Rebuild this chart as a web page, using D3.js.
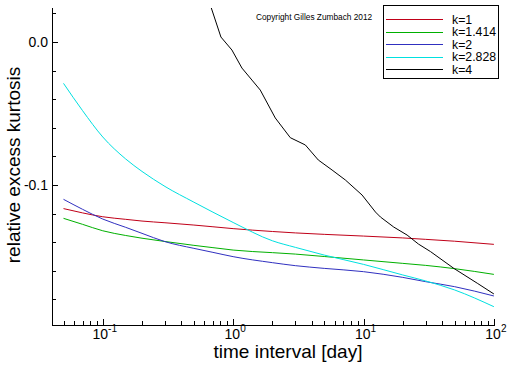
<!DOCTYPE html>
<html><head><meta charset="utf-8">
<script src="https://cdn.jsdelivr.net/npm/d3@7"></script>
<style>body{margin:0;background:#fff}svg{display:block;font-family:"Liberation Sans",Arial,sans-serif}</style>
</head><body><svg id="c" width="512" height="366"></svg>
<script>
const xs = [0.05,0.07,0.1,0.15,0.2,0.3,0.5,0.7,1,2,3,5,10,20,30,50,100];
const k1    = [-0.1165,-0.1195,-0.1222,-0.1240,-0.1252,-0.1264,-0.1280,-0.1292,-0.1305,-0.1325,-0.1335,-0.1345,-0.1357,-0.1370,-0.1380,-0.1393,-0.1415];
const k1414 = [-0.1233,-0.1275,-0.1320,-0.1353,-0.1372,-0.1395,-0.1422,-0.1438,-0.1455,-0.1473,-0.1483,-0.1500,-0.1524,-0.1548,-0.1562,-0.1585,-0.1625];
const k2    = [-0.1100,-0.1170,-0.1238,-0.1296,-0.1338,-0.1396,-0.1443,-0.1471,-0.1501,-0.1543,-0.1564,-0.1583,-0.1606,-0.1646,-0.1676,-0.1711,-0.1776];
const k2828 = [-0.0289,-0.0480,-0.0664,-0.0818,-0.0905,-0.1010,-0.1120,-0.1190,-0.1262,-0.1390,-0.1436,-0.1490,-0.1555,-0.1629,-0.1671,-0.1734,-0.1851];
const xs4 = [0.675,0.806,0.979,1.168,1.394,1.615,2.105,2.746,3.58,4.50,5.74,7.26,9.75,12.35,13.49,17.06,21.6,26.4,32.7,49.3,74.6,100];
const k4  = [0.0247,0.0035,-0.0056,-0.0182,-0.0266,-0.0336,-0.0531,-0.0669,-0.0720,-0.0825,-0.0895,-0.0965,-0.1070,-0.1189,-0.1224,-0.1294,-0.1350,-0.1413,-0.1466,-0.1583,-0.1687,-0.1762];
const names = ["k=1","k=1.414","k=2","k=2.828","k=4"];
const colors = ["#c00018","#00b000","#3030c0","#00e0e0","#000000"];
const yTicksMajor = [0.0,-0.1];
const yTickLabels = ["0.0","-0.1"];
const xDecades = [-1,0,1,2];

const svg = d3.select("#c");
const x = d3.scaleLog().domain([0.0408,102]).range([52,495]);
const y = d3.scaleLinear().domain([-0.1979,0.0238]).range([325,8]);

svg.append("defs").append("clipPath").attr("id","clip").append("rect")
  .attr("x",52).attr("y",8).attr("width",443).attr("height",317);

const series = [
  {x:xs,y:k1,c:d3.curveMonotoneX},{x:xs,y:k1414,c:d3.curveMonotoneX},{x:xs,y:k2,c:d3.curveMonotoneX},
  {x:xs,y:k2828,c:d3.curveMonotoneX},{x:xs4,y:k4,c:d3.curveLinear}
];
const g = svg.append("g").attr("clip-path","url(#clip)");
series.forEach((s,i)=>{
  const line = d3.line().x(d=>x(d[0])).y(d=>y(d[1])).curve(s.c);
  g.append("path").datum(s.x.map((v,j)=>[v,s.y[j]]))
   .attr("d",line).attr("fill","none").attr("stroke",colors[i]).attr("stroke-width",1);
});

const ax = svg.append("g").attr("stroke","#000").attr("stroke-width",1).attr("shape-rendering","crispEdges");
ax.append("line").attr("x1",52).attr("x2",52).attr("y1",8).attr("y2",325.5);
ax.append("line").attr("x1",52).attr("x2",495).attr("y1",325).attr("y2",325);
const yMinor = d3.range(-0.18,0.021,0.02);
yMinor.forEach(v=>{
  const isMaj = yTicksMajor.some(m=>Math.abs(m-v)<1e-6);
  ax.append("line").attr("x1",52).attr("x2",52+(isMaj?6:4)).attr("y1",Math.round(y(v))).attr("y2",Math.round(y(v)));
});
const xt = x.ticks();
xt.forEach(v=>{
  if(v<x.domain()[0]||v>x.domain()[1]) return;
  const isMaj = Math.abs(Math.log10(v)-Math.round(Math.log10(v)))<1e-6;
  const px = Math.round(x(v));
  ax.append("line").attr("x1",px).attr("x2",px).attr("y1",325).attr("y2",325-(isMaj?6:4));
});

yTicksMajor.forEach((v,i)=>{
  svg.append("text").attr("x",48).attr("y",y(v)+5).attr("text-anchor","end")
    .attr("font-size",14).text(yTickLabels[i]);
});
xDecades.forEach(d=>{
  const t = svg.append("text").attr("x",x(Math.pow(10,d))+2).attr("y",339).attr("text-anchor","middle").attr("font-size",14);
  t.append("tspan").text("10");
  t.append("tspan").attr("dy",-7).attr("font-size",10).text(String(d));
});

svg.append("text").attr("x",288).attr("y",358).attr("text-anchor","middle").attr("font-size",19).text("time interval [day]");
svg.append("text").attr("transform","translate(20,165) rotate(-90)").attr("text-anchor","middle").attr("font-size",19).text("relative excess kurtosis");

svg.append("text").attr("x",256).attr("y",20).attr("font-size",8.3).text("Copyright Gilles Zumbach 2012");

const lg = svg.append("g");
lg.append("rect").attr("x",383.5).attr("y",5.5).attr("width",115).attr("height",73).attr("fill","#fff").attr("stroke","#000").attr("stroke-width",1);
names.forEach((n,i)=>{
  const yy = 19+i*12.5;
  lg.append("line").attr("x1",386).attr("x2",443).attr("y1",Math.round(yy)+0.5).attr("y2",Math.round(yy)+0.5).attr("stroke",colors[i]).attr("stroke-width",1);
  lg.append("text").attr("x",452).attr("y",yy+4.5).attr("font-size",12.3).text(n);
});
</script></body></html>
